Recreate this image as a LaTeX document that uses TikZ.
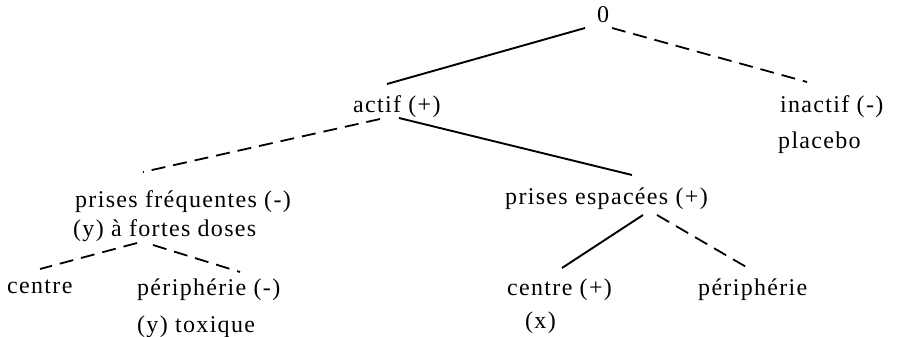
\documentclass[tikz,border=0pt]{standalone}
\usepackage{fontspec}
\setmainfont{Liberation Serif}[LetterSpace=5.5]
\usetikzlibrary{calc}
\begin{document}
\begin{tikzpicture}[x=1pt,y=-1pt,
  lbl/.style={anchor=base west,inner sep=0pt,font=\fontsize{24}{27}\selectfont},
  solidedge/.style={line width=1.9pt},
  dashedge/.style={line width=1.8pt,dash pattern=on 14pt off 8pt}]
\useasboundingbox (0,0) rectangle (899,337);
\node[lbl] (zero) at (597,23) {0};
\node[lbl] (actif) at (353,112) {actif (+)};
\node[lbl] (inactif) at (780,112) {inactif (-)};
\node[lbl] (placebo) at (778,148) {placebo};
\node[lbl] (freq) at (75,207) {prises fréquentes (-)};
\node[lbl] (doses) at (73,236) {(y) à fortes doses};
\node[lbl] (esp) at (505,204) {prises espacées (+)};
\node[lbl] (centreA) at (7,293) {centre};
\node[lbl] (periA) at (137,295) {périphérie (-)};
\node[lbl] (toxique) at (137,332) {(y) toxique};
\node[lbl] (centreB) at (507,295) {centre (+)};
\node[lbl] (xnode) at (525,328) {(x)};
\node[lbl] (periB) at (698,295) {périphérie};

\draw[solidedge] ($(zero.base west)+(-12,5)$) -- ($(actif.base west)+(34,-28)$);
\draw[dashedge] ($(zero.base west)+(15,5)$) -- ($(inactif.base west)+(27,-30)$);
\draw[solidedge] ($(actif.base west)+(46,6)$) -- ($(esp.base west)+(127,-29)$);
\draw[dashedge] ($(actif.base west)+(27,7)$) -- ($(freq.base west)+(68,-35)$);
\draw[solidedge] ($(esp.base west)+(138,11)$) -- ($(centreB.base west)+(55,-27)$);
\draw[dashedge] ($(esp.base west)+(152,11)$) -- ($(periB.base west)+(50,-27)$);
\draw[dashedge] ($(doses.base west)+(64,7)$) -- ($(centreA.base west)+(33,-24)$);
\draw[dashedge] ($(doses.base west)+(80,9)$) -- ($(periA.base west)+(103,-23)$);
\end{tikzpicture}
\end{document}
